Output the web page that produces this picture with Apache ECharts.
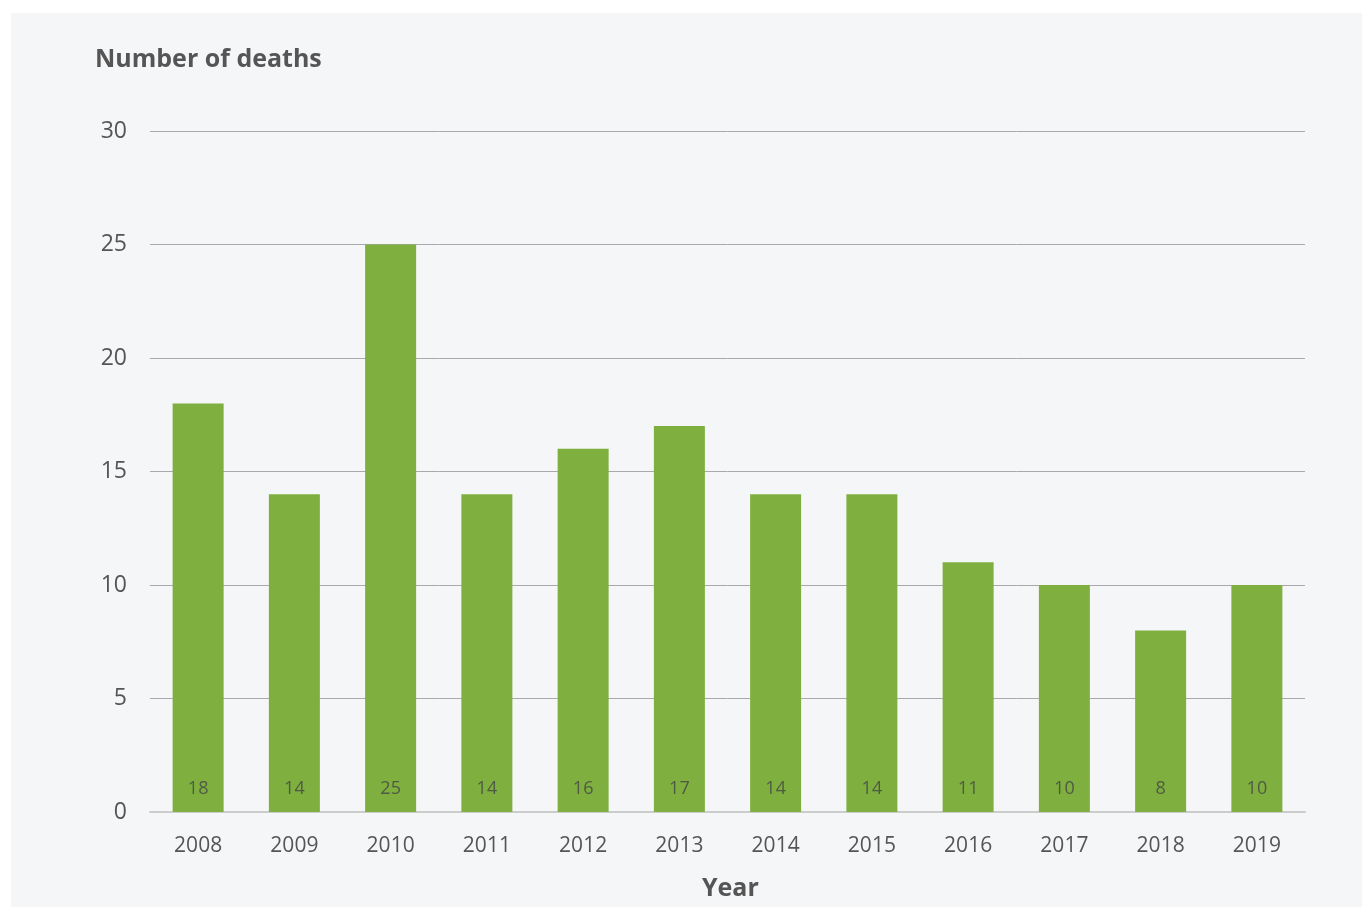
<!DOCTYPE html>
<html>
<head>
<meta charset="utf-8">
<script src="https://cdn.jsdelivr.net/npm/echarts@6/dist/echarts.min.js"></script>
<style>
  html, body { margin: 0; padding: 0; background: #ffffff; }
  #panel { position: absolute; left: 11px; top: 13px; right: 0; bottom: 0; background: #f5f6f8; }
  #chart { position: absolute; left: 0; top: 0; width: 1362px; height: 907px; }
</style>
</head>
<body>
<div id="panel"></div>
<div id="chart"></div>
<script>
// Annual number of deaths, 2008–2019
const years = ['2008', '2009', '2010', '2011', '2012', '2013', '2014', '2015', '2016', '2017', '2018', '2019'];
const deaths = [18, 14, 25, 14, 16, 17, 14, 14, 11, 10, 8, 10];
const yTicks = [0, 5, 10, 15, 20, 25, 30];

const FONT = '"Open Sans", "Noto Sans", sans-serif';
const chart = echarts.init(document.getElementById('chart'), null, { renderer: 'canvas' });

chart.setOption({
  backgroundColor: 'transparent',
  animation: false,
  grid: { left: 150, right: 57, top: 131, bottom: 95, containLabel: false },
  title: [
    {
      text: 'Number of deaths',
      left: 90, top: 42,
      textStyle: { fontFamily: FONT, fontSize: 25, fontWeight: 'bold', color: '#555555' }
    },
    {
      text: 'Year',
      left: 697, top: 871,
      textStyle: { fontFamily: FONT, fontSize: 25, fontWeight: 'bold', color: '#555555' }
    }
  ],
  xAxis: {
    type: 'category',
    data: years,
    axisLine: { show: true, lineStyle: { color: '#cccccc', width: 2 } },
    axisTick: { show: false },
    axisLabel: { fontFamily: FONT, fontSize: 21, color: '#555555', margin: 24 }
  },
  yAxis: {
    type: 'value',
    min: yTicks[0],
    max: yTicks[yTicks.length - 1],
    interval: yTicks[1] - yTicks[0],
    axisLine: { show: false },
    axisTick: { show: false },
    splitLine: { lineStyle: { color: '#a9a9ad', width: 1 } },
    axisLabel: { fontFamily: FONT, fontSize: 23, color: '#555555', margin: 23 }
  },
  series: [{
    type: 'bar',
    data: deaths,
    barWidth: '53%',
    itemStyle: { color: '#7fb03f' },
    label: {
      show: true,
      position: 'insideBottom',
      distance: 14,
      fontFamily: FONT,
      fontSize: 18,
      color: '#4f5a45'
    }
  }]
});
</script>
</body>
</html>
